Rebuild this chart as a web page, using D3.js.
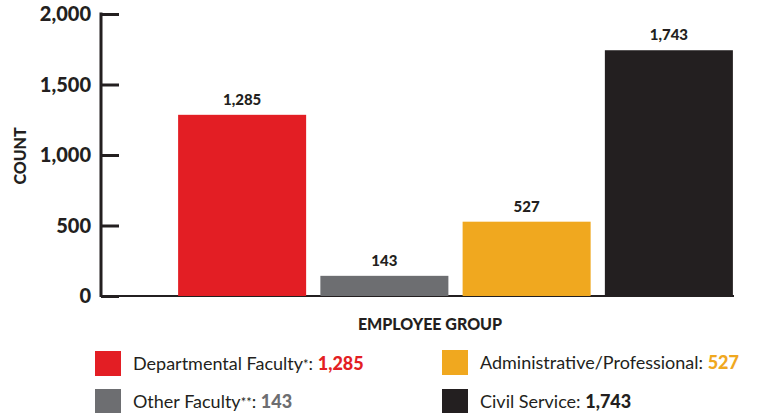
<!DOCTYPE html>
<html>
<head>
<meta charset="utf-8">
<script src="https://cdn.jsdelivr.net/npm/d3@7"></script>
<style>
body { margin: 0; background: #fff; }
svg { display: block; font-family: Lato, "Open Sans", sans-serif; }
</style>
</head>
<body>
<svg></svg>
<script>
var groups = ["Departmental Faculty", "Other Faculty", "Administrative/Professional", "Civil Service"]
var counts = [1285, 143, 527, 1743]
var legendNames = ["Departmental Faculty*: ", "Other Faculty**: ", "Administrative/Professional: ", "Civil Service: "]
var barCols = ["#e31e24", "#6d6e71", "#f0a81f", "#231f20"]
var valueCols = ["#e31e24", "#6d6e71", "#f0a81f", "#231f20"]
var yTicks = [0, 500, 1000, 1500, 2000]

var width = 772
var height = 413
var ink = "#231f20"

var svg = d3.select("svg")
	.attr("width", width)
	.attr("height", height)

var xScale = d3.scaleBand()
	.domain(groups)
	.range([171, 740])
	.paddingInner(0.1)
	.paddingOuter(0.05)

var yScale = d3.scaleLinear()
	.domain([0, 2000])
	.range([296, 14])

// y axis
var yAxis = svg.append("g")
	.attr("transform", "translate(101,0)")
	.call(d3.axisRight(yScale).tickValues(yTicks).tickSize(18).tickFormat(""))

yAxis.select(".domain").remove()
yAxis.selectAll(".tick line").attr("stroke", ink).attr("stroke-width", 3)

svg.append("line")
	.attr("x1", 101).attr("x2", 101)
	.attr("y1", yScale(2000) - 1.5).attr("y2", yScale(0) + 1)
	.attr("stroke", ink).attr("stroke-width", 3)

svg.selectAll(".ylab")
	.data(yTicks)
	.join("text")
	.attr("class", "ylab")
	.attr("x", 91)
	.attr("y", function(d){ return yScale(d); })
	.attr("dy", "0.36em")
	.attr("text-anchor", "end")
	.attr("font-size", 20)
	.attr("font-weight", 900)
	.attr("fill", ink)
	.text(function(d){ return d3.format(",")(d); })

// baseline
svg.append("line")
	.attr("x1", 101).attr("x2", 734)
	.attr("y1", yScale(0)).attr("y2", yScale(0))
	.attr("stroke", ink).attr("stroke-width", 2)

// bars
svg.selectAll(".bar")
	.data(groups)
	.join("rect")
	.attr("class", "bar")
	.attr("x", function(d){ return xScale(d); })
	.attr("width", xScale.bandwidth())
	.attr("y", function(d, i){ return yScale(counts[i]); })
	.attr("height", function(d, i){ return yScale(0) - yScale(counts[i]); })
	.attr("fill", function(d, i){ return barCols[i]; })

svg.selectAll(".val")
	.data(groups)
	.join("text")
	.attr("class", "val")
	.attr("x", function(d){ return xScale(d) + xScale.bandwidth() / 2; })
	.attr("y", function(d, i){ return yScale(counts[i]) - 10; })
	.attr("text-anchor", "middle")
	.attr("font-size", 15)
	.attr("font-weight", 900)
	.attr("fill", ink)
	.text(function(d, i){ return d3.format(",")(counts[i]); })

// axis titles
svg.append("text")
	.attr("transform", "translate(26,156) rotate(-90)")
	.attr("text-anchor", "middle")
	.attr("font-size", 16)
	.attr("font-weight", 900)
	.attr("fill", ink)
	.text("COUNT")

svg.append("text")
	.attr("x", 430)
	.attr("y", 330)
	.attr("text-anchor", "middle")
	.attr("font-size", 16)
	.attr("font-weight", 900)
	.attr("fill", ink)
	.text("EMPLOYEE GROUP")

// legend
var legPos = [[95, 351], [95, 389], [442, 350], [442, 389]]

var leg = svg.selectAll(".leg")
	.data(groups)
	.join("g")
	.attr("class", "leg")
	.attr("transform", function(d, i){ return "translate(" + legPos[i][0] + "," + legPos[i][1] + ")"; })

leg.append("rect")
	.attr("width", 26)
	.attr("height", 25)
	.attr("fill", function(d, i){ return barCols[i]; })

var legText = leg.append("text")
	.attr("x", 38)
	.attr("y", 19)
	.attr("font-size", 18)
	.attr("fill", ink)

legText.each(function(d, i){
	var t = d3.select(this)
	var name = legendNames[i]
	var m = name.match(/^([^*]*)(\**)(.*)$/)
	t.append("tspan").text(m[1])
	if (m[2]) t.append("tspan").attr("font-size", 13).attr("dy", -1).text(m[2])
	t.append("tspan").attr("dy", m[2] ? 1 : 0).text(m[3])
	t.append("tspan")
		.attr("font-weight", 900)
		.attr("fill", valueCols[i])
		.text(d3.format(",")(counts[i]))
})
</script>
</body>
</html>
